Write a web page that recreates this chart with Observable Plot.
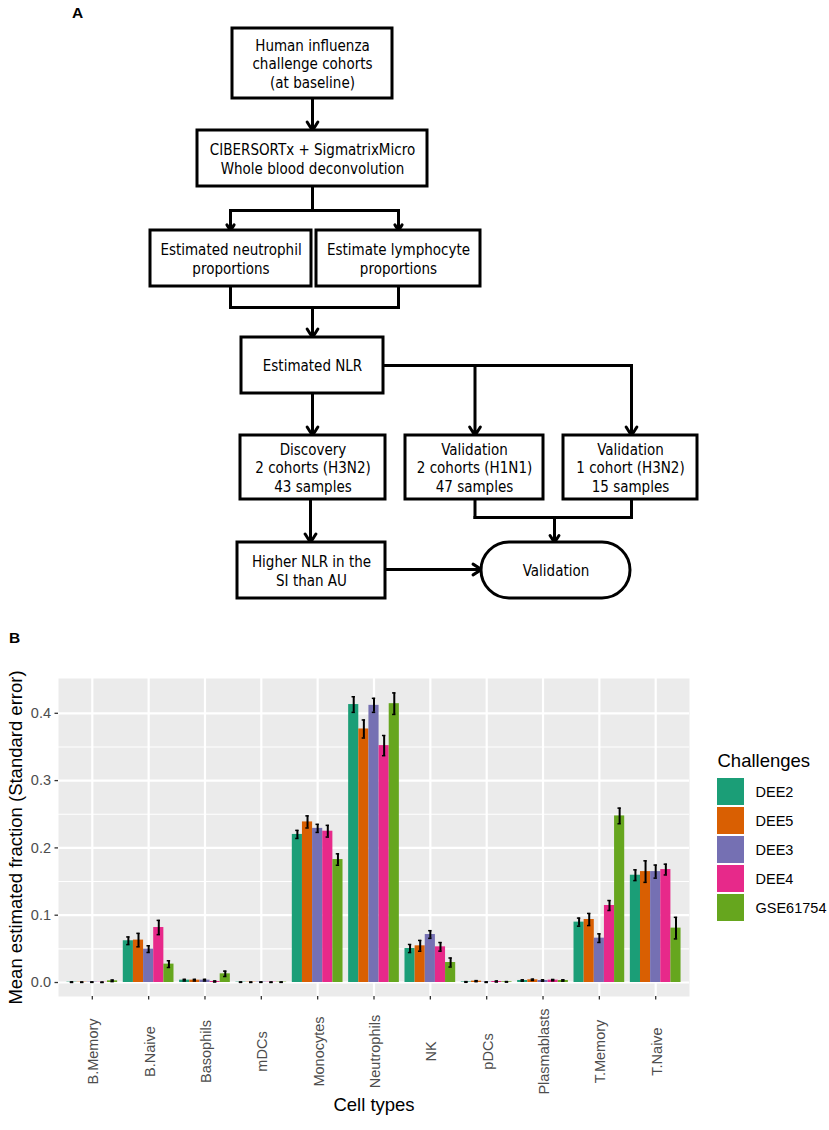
<!DOCTYPE html>
<html><head><meta charset="utf-8">
<script src="https://cdn.jsdelivr.net/npm/d3@7"></script>
<script src="https://cdn.jsdelivr.net/npm/@observablehq/plot@0.6"></script>
<style>
body{margin:0;background:#fff}
#page{position:relative;width:829px;height:1130px;overflow:hidden;background:#fff}
.lbl{position:absolute;font:bold 15.5px "Liberation Sans",Arial,sans-serif;line-height:18px}
#flow,#bars,#legend{position:absolute}
#flow svg text{font-stretch:condensed}
</style></head><body><div id="page">
<div id="flow" style="left:0;top:0"></div>
<div id="bars" style="left:0;top:630px"></div>
<div id="legend" style="left:717px;top:745px"></div>
<div class="lbl" style="left:72px;top:4px">A</div>
<div class="lbl" style="left:9px;top:629px">B</div>
</div>
<script>
// ---------- Panel B data ----------
const cellTypes = ["B.Memory","B.Naive","Basophils","mDCs","Monocytes","Neutrophils","NK","pDCs","Plasmablasts","T.Memory","T.Naive"];
const challenges = ["DEE2","DEE5","DEE3","DEE4","GSE61754"];
const challengeColors = ["#1B9E77","#D95F02","#7570B3","#E7298A","#66A61E"];
const meanDEE2 = [0.0005,0.0620,0.0035,0.0005,0.2200,0.4130,0.0505,0.0008,0.0030,0.0897,0.1594];
const seDEE2   = [0.0004,0.0057,0.0012,0.0003,0.0060,0.0116,0.0060,0.0005,0.0010,0.0060,0.0080];
const meanDEE5 = [0.0004,0.0630,0.0035,0.0004,0.2386,0.3767,0.0545,0.0020,0.0040,0.0936,0.1648];
const seDEE5   = [0.0003,0.0100,0.0012,0.0003,0.0090,0.0134,0.0080,0.0008,0.0010,0.0090,0.0160];
const meanDEE3 = [0.0005,0.0496,0.0035,0.0005,0.2290,0.4118,0.0713,0.0005,0.0030,0.0659,0.1648];
const seDEE3   = [0.0003,0.0050,0.0012,0.0003,0.0060,0.0104,0.0057,0.0004,0.0010,0.0064,0.0097];
const meanDEE4 = [0.0003,0.0817,0.0015,0.0004,0.2248,0.3520,0.0530,0.0015,0.0035,0.1144,0.1678];
const seDEE4   = [0.0003,0.0106,0.0008,0.0003,0.0087,0.0150,0.0064,0.0008,0.0010,0.0074,0.0080];
const meanGSE  = [0.0025,0.0273,0.0129,0.0005,0.1827,0.4143,0.0297,0.0010,0.0030,0.2475,0.0808];
const seGSE    = [0.0012,0.0050,0.0040,0.0003,0.0085,0.0160,0.0067,0.0004,0.0010,0.0116,0.0160];
const yTicks = [0, 0.1, 0.2, 0.3, 0.4];
const yMinor = [0.05, 0.15, 0.25, 0.35];

// ---------- Panel A data ----------
const flowLabels = [
  "Human influenza\nchallenge cohorts\n(at baseline)",
  "CIBERSORTx + SigmatrixMicro\nWhole blood deconvolution",
  "Estimated neutrophil\nproportions",
  "Estimate lymphocyte\nproportions",
  "Estimated NLR",
  "Discovery\n2 cohorts (H3N2)\n43 samples",
  "Validation\n2 cohorts (H1N1)\n47 samples",
  "Validation\n1 cohort (H3N2)\n15 samples",
  "Higher NLR in the\nSI than AU"
];
const terminalLabel = ["Validation"];

// layout of the diagram (diagram units)
const boxLayout = [
  [232,392,28,98],[197,427,130,186],[150,311,230,286],[316,480,230,286],
  [241,383,337,393],[240,385,435,499],[405,543,435,499],[563,697,435,499],
  [237,385,542,598]
];
const terminalLayout = [[481,630,542,598]];
const lineLayout = [
  [312,186,312,210],[230,210,398,210],
  [230,286,230,307],[398,286,398,307],[230,307,398,307],
  [383,365,631,365],
  [474.5,499,474.5,517],[631,499,631,517],[474.5,517,631,517]
];
const arrowLayout = [
  [312,98,312,130],[230,210,230,230],[398,210,398,230],[312,307,312,337],
  [312,393,312,435],[474.5,365,474.5,435],[631,365,631,435],
  [310,499,310,542],[554,517,554,542],[385,569,481,569]
];

// ---------- Panel A ----------
const boxes = flowLabels.map((t,i)=>({text:t, x1:boxLayout[i][0], x2:boxLayout[i][1], y1:boxLayout[i][2], y2:boxLayout[i][3]}));
const terms = terminalLabel.map((t,i)=>({text:t, x1:terminalLayout[i][0], x2:terminalLayout[i][1], y1:terminalLayout[i][2], y2:terminalLayout[i][3]}));
const seg = a => ({x1:a[0], y1:a[1], x2:a[2], y2:a[3]});
const flowFont = "'DejaVu Sans Condensed','DejaVu Sans',sans-serif";
const flow = Plot.plot({
  width: 829, height: 620, margin: 0,
  x: {domain: [0, 829], range: [0, 829], axis: null},
  y: {domain: [0, 620], range: [0, 620], axis: null},
  style: {background: "transparent"},
  marks: [
    Plot.link(lineLayout.map(seg), {x1:"x1", y1:"y1", x2:"x2", y2:"y2", stroke:"black", strokeWidth:3, strokeLinecap:"square"}),
    Plot.arrow(arrowLayout.map(seg), {x1:"x1", y1:"y1", x2:"x2", y2:"y2", stroke:"black", strokeWidth:3, headLength:5, headAngle:65}),
    Plot.rect(boxes, {x1:"x1", x2:"x2", y1:"y1", y2:"y2", fill:"white", stroke:"black", strokeWidth:3}),
    Plot.rect(terms, {x1:"x1", x2:"x2", y1:"y1", y2:"y2", fill:"white", stroke:"black", strokeWidth:3, rx:28}),
    Plot.text(boxes.concat(terms), {x: d=>(d.x1+d.x2)/2, y: d=>(d.y1+d.y2)/2, text:"text", fontSize:15, lineHeight:1.22, fontFamily:flowFont, fill:"black"})
  ]
});
document.getElementById("flow").appendChild(flow);

// ---------- Panel B ----------
const means = [meanDEE2, meanDEE5, meanDEE3, meanDEE4, meanGSE];
const ses = [seDEE2, seDEE5, seDEE3, seDEE4, seGSE];
const rows = [];
cellTypes.forEach((c,i)=>challenges.forEach((s,j)=>rows.push({cell:c, pos:i+1, series:s, k:j, mean:means[j][i], se:ses[j][i]})));
const dodge = 0.9, bw = dodge / challenges.length, cap = 0.03;
const left = d => d.pos - dodge/2 + d.k*bw;
const mid = d => left(d) + bw/2;
const positions = cellTypes.map((c,i)=>i+1);
const font = "'Liberation Sans',Arial,sans-serif";

const bars = Plot.plot({
  width: 829, height: 500,
  marginLeft: 58, marginRight: 140, marginTop: 48, marginBottom: 134,
  x: {domain: [0.4, 11.6], axis: null},
  y: {domain: [-0.0208, 0.4517], axis: null},
  color: {domain: challenges, range: challengeColors},
  style: {fontFamily: font, background: "transparent"},
  marks: [
    Plot.frame({fill: "#EBEBEB", stroke: null}),
    Plot.ruleY(yMinor, {stroke: "white", strokeWidth: 1.1}),
    Plot.ruleY(yTicks, {stroke: "white", strokeWidth: 2.2}),
    Plot.ruleX(positions, {stroke: "white", strokeWidth: 2.2}),
    Plot.rectY(rows, {x1: left, x2: d => left(d) + bw, y: "mean", fill: "series"}),
    Plot.ruleX(rows, {x: mid, y1: d => d.mean - d.se, y2: d => d.mean + d.se, stroke: "black", strokeWidth: 2}),
    Plot.ruleY(rows, {x1: d => mid(d) - cap, x2: d => mid(d) + cap, y: d => d.mean - d.se, stroke: "black", strokeWidth: 1.5}),
    Plot.ruleY(rows, {x1: d => mid(d) - cap, x2: d => mid(d) + cap, y: d => d.mean + d.se, stroke: "black", strokeWidth: 1.5}),
    Plot.axisY({ticks: yTicks, tickFormat: ".1f", tickSize: 3.5, tickPadding: 4, fontSize: 14.5, fill: "#4d4d4d", stroke: "#333", strokeWidth: 1.3, label: null}),
    Plot.axisX({ticks: positions, tickFormat: () => "", tickSize: 3.5, stroke: "#333", strokeWidth: 1.3, label: null}),
    Plot.text(cellTypes, {x: (d,i) => i + 1, frameAnchor: "bottom", dy: 55, dx: 6, rotate: -90, textAnchor: "middle", lineAnchor: "bottom", fontSize: 14.5, fill: "#4d4d4d"}),
    Plot.text(["Cell types"], {frameAnchor: "bottom", dy: 114, textAnchor: "middle", lineAnchor: "bottom", fontSize: 18.5, fill: "black"}),
    Plot.text(["Mean estimated fraction (Standard error)"], {frameAnchor: "left", dx: -37, rotate: -90, textAnchor: "middle", lineAnchor: "bottom", fontSize: 18.5, fill: "black"})
  ]
});
document.getElementById("bars").appendChild(bars);

// ---------- Legend ----------
const legend = Plot.plot({
  width: 112, height: 177, marginTop: 32, marginBottom: 0, marginLeft: 0, marginRight: 85,
  x: {axis: null},
  y: {domain: challenges, axis: null, paddingInner: 0.07, paddingOuter: 0.035},
  color: {domain: challenges, range: challengeColors},
  style: {fontFamily: font, background: "transparent", overflow: "visible"},
  marks: [
    Plot.cell(challenges, {y: d => d, fill: d => d}),
    Plot.text(challenges, {y: d => d, frameAnchor: "right", dx: 11, textAnchor: "start", fontSize: 14.5, fill: "black"}),
    Plot.text(["Challenges"], {frameAnchor: "top-left", dy: -11, lineAnchor: "bottom", textAnchor: "start", fontSize: 18.5, fill: "black"})
  ]
});
document.getElementById("legend").appendChild(legend);
</script>
</body></html>
